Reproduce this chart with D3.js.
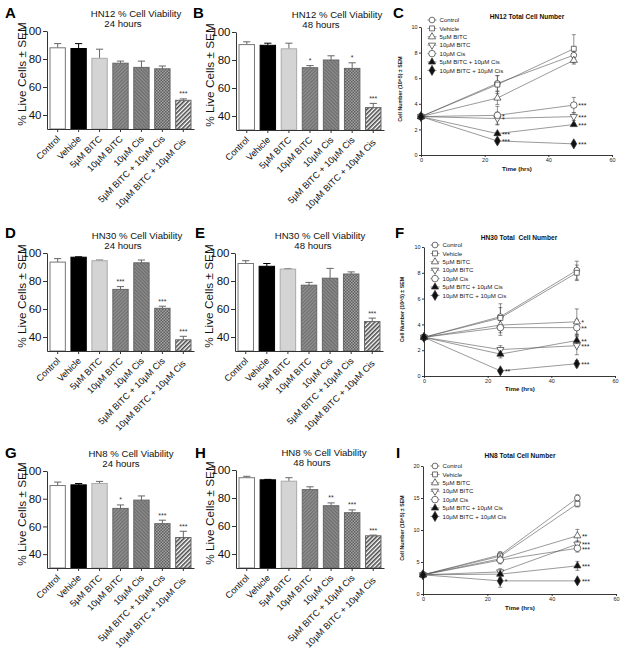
<!DOCTYPE html>
<html><head><meta charset="utf-8">
<script src="https://cdn.jsdelivr.net/npm/d3@7"></script>
<style>body{margin:0;background:#fff}</style>
</head><body>
<svg id="c" width="625" height="651" xmlns="http://www.w3.org/2000/svg"></svg>
<script>
// ---------- DATA ----------
const categories = ["Control","Vehicle","5µM BITC","10µM BITC","10µM Cis","5µM BITC + 10µM Cis","10µM BITC + 10µM Cis"];

const hn12_24h_mean = [88, 87.5, 80.5, 77, 74, 73, 50.5];
const hn12_24h_sem  = [3, 3.5, 6.5, 1.5, 4.5, 2, 1];
const hn12_24h_sig  = ["","","","","","","***"];

const hn12_48h_mean = [91, 90.5, 88, 74.5, 80, 74, 46];
const hn12_48h_sem  = [2, 1.5, 4, 1.5, 3, 4, 3];
const hn12_48h_sig  = ["","","","*","","*","***"];

const hn30_24h_mean = [93.5, 97, 94.5, 74, 93, 60.5, 38];
const hn30_24h_sem  = [2.5, 0.3, 0.5, 2, 2, 1.5, 2.5];
const hn30_24h_sig  = ["","","","***","","***","***"];

const hn30_48h_mean = [92.5, 90.5, 88.5, 77, 82, 85, 51];
const hn30_48h_sem  = [2, 2, 0.3, 2, 7, 1.5, 2.5];
const hn30_48h_sig  = ["","","","","","","***"];

const hn8_24h_mean = [89.5, 90, 91, 73, 79, 62, 52];
const hn8_24h_sem  = [2.5, 1, 1.5, 2.5, 3, 2.5, 4.5];
const hn8_24h_sig  = ["","","","*","","***","***"];

const hn8_48h_mean = [94.5, 93, 92, 86, 74.5, 69.5, 53];
const hn8_48h_sem  = [1, 0.3, 2.5, 2, 2, 2, 0.5];
const hn8_48h_sig  = ["","","","","**","***","***"];

const barTicks = [40, 60, 80, 100];

// time course
const timePoints = [0, 24, 48];
const timeTicks = [0, 20, 40, 60];

const hn12_count_mean = [
  [3, 5.6, 7.8], [3, 5.5, 8.3], [3, 4.45, 7.4], [3, 2.85, 3.0], [3, 3.1, 3.9], [3, 1.67, 2.38], [3, 1.1, 0.87]];
const hn12_count_sem = [
  [0.1, 0.6, 0.3], [0.1, 0.7, 1.1], [0.1, 0.5, 0.3], [0.1, 0.5, 0.3], [0.1, 0.7, 0.6], [0.1, 0.1, 0.1], [0.1, 0.15, 0.15]];
const hn12_count_sig = [
  ["","",""], ["","",""], ["","",""], ["","*","***"], ["","*","***"], ["","***","***"], ["","***","***"]];
const hn12_yTicks = [0, 2, 4, 6, 8, 10];

const hn30_count_mean = [
  [3, 4.6, 8.2], [3, 4.5, 8.0], [3, 3.95, 4.2], [3, 2.05, 2.35], [3, 3.75, 3.75], [3, 1.7, 2.75], [3, 0.4, 0.95]];
const hn30_count_sem = [
  [0.1, 1.0, 0.7], [0.1, 0.8, 0.6], [0.1, 0.6, 1.0], [0.1, 0.3, 0.7], [0.1, 0.6, 0.6], [0.1, 0.3, 0.5], [0.1, 0.1, 0.25]];
const hn30_count_sig = [
  ["","",""], ["","",""], ["","","*"], ["","","***"], ["","","**"], ["","","**"], ["","**","***"]];
const hn30_yTicks = [0, 2, 4, 6, 8, 10];

const hn8_count_mean = [
  [3, 6.1, 15.0], [3, 5.9, 14.1], [3, 5.5, 9.1], [3, 3.45, 7.8], [3, 5.3, 7.15], [3, 3.1, 4.4], [3, 2.05, 2.05]];
const hn8_count_sem = [
  [0.1, 0.5, 0.5], [0.1, 0.5, 0.5], [0.1, 0.6, 1.0], [0.1, 0.5, 0.5], [0.1, 0.6, 0.6], [0.1, 0.6, 0.7], [0.1, 1.0, 0.2]];
const hn8_count_sig = [
  ["","",""], ["","",""], ["","","**"], ["","","***"], ["","","***"], ["","","***"], ["","*","***"]];
const hn8_yTicks = [0, 5, 10, 15, 20];

// ---------- DRAW ----------
const FONT = "'Liberation Sans', Arial, Helvetica, sans-serif";
const svg = d3.select("#c").style("font-family", FONT);
const defs = svg.append("defs");

function pat(id, w, h, rot, bg, draw) {
  const p = defs.append("pattern").attr("id", id).attr("patternUnits", "userSpaceOnUse")
    .attr("width", w).attr("height", h);
  if (rot) p.attr("patternTransform", `rotate(${rot})`);
  p.append("rect").attr("width", w).attr("height", h).attr("fill", bg);
  draw(p);
}
pat("pBITC", 2.5, 2.5, 45, "#8e8e8e", p => p.append("rect").attr("width", 1).attr("height", 2.5).attr("fill", "#6c6c6c"));
pat("pCis", 2.5, 2.5, -45, "#8a8a8a", p => p.append("rect").attr("width", 1).attr("height", 2.5).attr("fill", "#696969"));
pat("pComb5", 3, 3, 0, "#a3a3a3", p => {
  p.append("rect").attr("width", 1.5).attr("height", 1.5).attr("fill", "#5e5e5e");
  p.append("rect").attr("x", 1.5).attr("y", 1.5).attr("width", 1.5).attr("height", 1.5).attr("fill", "#5e5e5e");
});
pat("pComb10", 3, 3, 45, "#ffffff", p => p.append("rect").attr("width", 1.6).attr("height", 3).attr("fill", "#4a4a4a"));

const barFill = ["#ffffff", "#000000", "#d4d4d4", "url(#pBITC)", "url(#pCis)", "url(#pComb5)", "url(#pComb10)"];
const barStroke = ["#777", "#000", "#aaa", "#666", "#666", "#666", "#666"];

function panelLetter(t, x, y) {
  svg.append("text").attr("x", x).attr("y", y).text(t)
    .attr("font-size", 15).attr("font-weight", "bold").attr("fill", "#000");
}

function barChart(o) {
  const g = svg.append("g");
  const x = d3.scaleBand().domain(categories).range([o.x0, o.x1]).paddingInner(0.22).paddingOuter(0.12);
  const y = d3.scaleLinear().domain([30, 100]).range([o.yb, o.yt]);
  const bw = x.bandwidth();
  // error bars
  g.selectAll(".err").data(o.mean).join("path")
    .attr("d", (d, i) => {
      const cx = x(categories[i]) + bw / 2, y0 = y(d), y1 = y(d + o.sem[i]);
      return `M${cx},${y0}V${y1}M${cx - bw * 0.22},${y1}H${cx + bw * 0.22}`;
    })
    .attr("stroke", (d, i) => i === 1 ? "#000" : "#666").attr("stroke-width", 1).attr("fill", "none");
  // bars
  g.selectAll(".bar").data(o.mean).join("rect")
    .attr("x", (d, i) => x(categories[i]) + 0.5).attr("width", bw - 1)
    .attr("y", d => y(d)).attr("height", d => o.yb - y(d))
    .attr("fill", (d, i) => barFill[i]).attr("stroke", (d, i) => barStroke[i]).attr("stroke-width", 1);
  // significance
  g.selectAll(".sig").data(o.sig).join("text")
    .attr("x", (d, i) => x(categories[i]) + bw / 2)
    .attr("y", (d, i) => y(o.mean[i] + o.sem[i]) - 2.5)
    .attr("text-anchor", "middle").attr("font-size", 7).attr("fill", "#333").text(d => d);
  // y axis
  const ya = g.append("g").attr("transform", `translate(${o.x0},0)`)
    .call(d3.axisLeft(y).tickValues(barTicks).tickSize(4).tickSizeOuter(0).tickPadding(1.5));
  ya.selectAll("text").attr("font-size", 11.5).attr("font-family", FONT).attr("fill", "#111");
  ya.selectAll("path,line").attr("stroke", "#333").attr("stroke-width", 1);
  // x axis
  const xa = g.append("g").attr("transform", `translate(0,${o.yb})`)
    .call(d3.axisBottom(x).tickSize(3).tickSizeOuter(0).tickFormat(""));
  xa.selectAll("path,line").attr("stroke", "#333").attr("stroke-width", 1);
  // x labels
  g.selectAll(".xl").data(categories).join("text")
    .attr("transform", (d, i) => `translate(${x(d) + bw / 2 + 3},${o.yb + (i === 6 ? 13 : 10.5)}) rotate(-45)`)
    .attr("text-anchor", "end").attr("font-size", 9.1).attr("fill", "#111").text(d => d);
  // y label
  g.append("text").attr("transform", `translate(${o.lx},${o.yt + 43}) rotate(-90)`)
    .attr("text-anchor", "middle").attr("font-size", 11.8).attr("fill", "#111").text("% Live Cells ± SEM");
  // title
  g.append("text").attr("x", o.t1x).attr("y", o.yt - 14).attr("text-anchor", "middle")
    .attr("font-size", 9.6).attr("fill", "#111").text(o.title);
  g.append("text").attr("x", o.t2x).attr("y", o.yt - 4.5).attr("text-anchor", "middle")
    .attr("font-size", 9.6).attr("fill", "#111").text(o.sub);
}

const symTypes = [d3.symbolCircle, d3.symbolSquare, d3.symbolTriangle, d3.symbolTriangle, d3.symbolCircle, d3.symbolTriangle, d3.symbolDiamond];
const symSize = [26, 24, 22, 22, 34, 22, 30];
const symRot = [0, 0, 0, 180, 0, 0, 0];
const symFilled = [false, false, false, false, false, true, true];

function drawSym(g, i, cx, cy) {
  g.append("path").attr("d", d3.symbol().type(symTypes[i]).size(symSize[i])())
    .attr("transform", `translate(${cx},${cy}) rotate(${symRot[i]})`)
    .attr("fill", symFilled[i] ? "#111" : "#fff").attr("stroke", "#333").attr("stroke-width", 0.7);
}

function lineChart(o) {
  const g = svg.append("g");
  const x = d3.scaleLinear().domain([0, 60]).range([o.x0, o.x1]);
  const y = d3.scaleLinear().domain([0, o.ymax]).range([o.yb, o.yt]);
  // axes
  const ya = g.append("g").attr("transform", `translate(${o.x0},0)`)
    .call(d3.axisLeft(y).tickValues(o.yTicks).tickSize(2).tickSizeOuter(0).tickPadding(1.5));
  const xa = g.append("g").attr("transform", `translate(0,${o.yb})`)
    .call(d3.axisBottom(x).tickValues(timeTicks).tickSize(2).tickSizeOuter(0).tickPadding(1.5));
  [ya, xa].forEach(a => {
    a.selectAll("text").attr("font-size", 5.5).attr("font-family", FONT).attr("fill", "#222");
    a.selectAll("path,line").attr("stroke", "#222").attr("stroke-width", 0.9);
  });
  const line = d3.line().x((d, j) => x(timePoints[j])).y(d => y(d));
  o.mean.forEach((s, i) => {
    g.append("path").attr("d", line(s)).attr("fill", "none").attr("stroke", "#555").attr("stroke-width", 0.6);
  });
  o.mean.forEach((s, i) => {
    s.forEach((v, j) => {
      const cx = x(timePoints[j]), e = o.sem[i][j];
      const ya1 = y(v + e), ya0 = y(v - e);
      g.append("path").attr("d", `M${cx},${ya1}V${ya0}M${cx - 2},${ya1}H${cx + 2}M${cx - 2},${ya0}H${cx + 2}`)
        .attr("stroke", "#444").attr("stroke-width", 0.6).attr("fill", "none");
    });
  });
  o.mean.forEach((s, i) => {
    s.forEach((v, j) => drawSym(g, i, x(timePoints[j]), y(v)));
  });
  o.mean.forEach((s, i) => {
    s.forEach((v, j) => {
      const t = o.sig[i][j];
      if (!t) return;
      g.append("text").attr("x", x(timePoints[j]) + 4.5).attr("y", y(v) + 3.3)
        .attr("font-size", 7).attr("fill", "#222").text(t);
    });
  });
  // legend
  categories.forEach((c, i) => {
    const ly = o.legY + i * 8.4;
    g.append("line").attr("x1", o.legX - 4.5).attr("x2", o.legX + 4.5).attr("y1", ly).attr("y2", ly)
      .attr("stroke", "#444").attr("stroke-width", 0.6);
    drawSym(g, i, o.legX, ly);
    g.append("text").attr("x", o.legX + 7.5).attr("y", ly + 2.1).attr("font-size", 6.1).attr("fill", "#222").text(c);
  });
  g.append("text").attr("x", o.tx).attr("y", o.ty).attr("text-anchor", "middle").attr("font-size", 6.6)
    .attr("font-weight", "bold").attr("fill", "#111").attr("xml:space", "preserve").style("white-space", "pre").text(o.title);
  g.append("text").attr("x", o.xlx).attr("y", o.xly).attr("text-anchor", "middle").attr("font-size", 6.2)
    .attr("font-weight", "bold").attr("fill", "#111").text("Time (hrs)");
  g.append("text").attr("transform", `translate(${o.ylx},${(o.yt + o.yb) / 2 - 2}) rotate(-90)`)
    .attr("text-anchor", "middle").attr("font-size", 5.3).attr("font-weight", "bold").attr("fill", "#222")
    .text("Cell Number (10^5) ± SEM");
}

// Row 1
panelLetter("A", 5, 18);
barChart({x0: 47, x1: 194, yt: 31, yb: 129, lx: 26, mean: hn12_24h_mean, sem: hn12_24h_sem, sig: hn12_24h_sig,
  title: "HN12 % Cell Viability", sub: "24 hours", t1x: 136, t2x: 123});
panelLetter("B", 193, 18);
barChart({x0: 236, x1: 384, yt: 32, yb: 130, lx: 214, mean: hn12_48h_mean, sem: hn12_48h_sem, sig: hn12_48h_sig,
  title: "HN12 % Cell Viability", sub: "48 hours", t1x: 337, t2x: 321});
panelLetter("C", 393, 18);
lineChart({x0: 421, x1: 612, yt: 27, yb: 155, ymax: 10, yTicks: hn12_yTicks, mean: hn12_count_mean, sem: hn12_count_sem,
  sig: hn12_count_sig, legX: 432, legY: 20, title: "HN12 Total Cell Number", tx: 527, ty: 18.5, xlx: 517, xly: 171, ylx: 402});

// Row 2
panelLetter("D", 5, 238);
barChart({x0: 47, x1: 194, yt: 253, yb: 351, lx: 26, mean: hn30_24h_mean, sem: hn30_24h_sem, sig: hn30_24h_sig,
  title: "HN30 % Cell Viability", sub: "24 hours", t1x: 137, t2x: 123});
panelLetter("E", 195, 238);
barChart({x0: 235, x1: 383, yt: 253, yb: 351, lx: 213, mean: hn30_48h_mean, sem: hn30_48h_sem, sig: hn30_48h_sig,
  title: "HN30 % Cell Viability", sub: "48 hours", t1x: 320, t2x: 313});
panelLetter("F", 395, 238);
lineChart({x0: 424, x1: 615, yt: 247, yb: 376, ymax: 10, yTicks: hn30_yTicks, mean: hn30_count_mean, sem: hn30_count_sem,
  sig: hn30_count_sig, legX: 435, legY: 245, title: "HN30 Total  Cell Number", tx: 519, ty: 240, xlx: 520, xly: 391, ylx: 404});

// Row 3
panelLetter("G", 5, 458);
barChart({x0: 47, x1: 194, yt: 471, yb: 568, lx: 26, mean: hn8_24h_mean, sem: hn8_24h_sem, sig: hn8_24h_sig,
  title: "HN8 % Cell Viability", sub: "24 hours", t1x: 131, t2x: 121});
panelLetter("H", 195, 458);
barChart({x0: 236, x1: 384, yt: 470, yb: 568, lx: 214, mean: hn8_48h_mean, sem: hn8_48h_sem, sig: hn8_48h_sig,
  title: "HN8 % Cell Viability", sub: "48 hours", t1x: 324, t2x: 312});
panelLetter("I", 396, 458);
lineChart({x0: 423, x1: 616, yt: 466, yb: 594, ymax: 20, yTicks: hn8_yTicks, mean: hn8_count_mean, sem: hn8_count_sem,
  sig: hn8_count_sig, legX: 435, legY: 466, title: "HN8 Total Cell Number", tx: 520, ty: 458, xlx: 520, xly: 610, ylx: 404});
</script>
</body></html>
